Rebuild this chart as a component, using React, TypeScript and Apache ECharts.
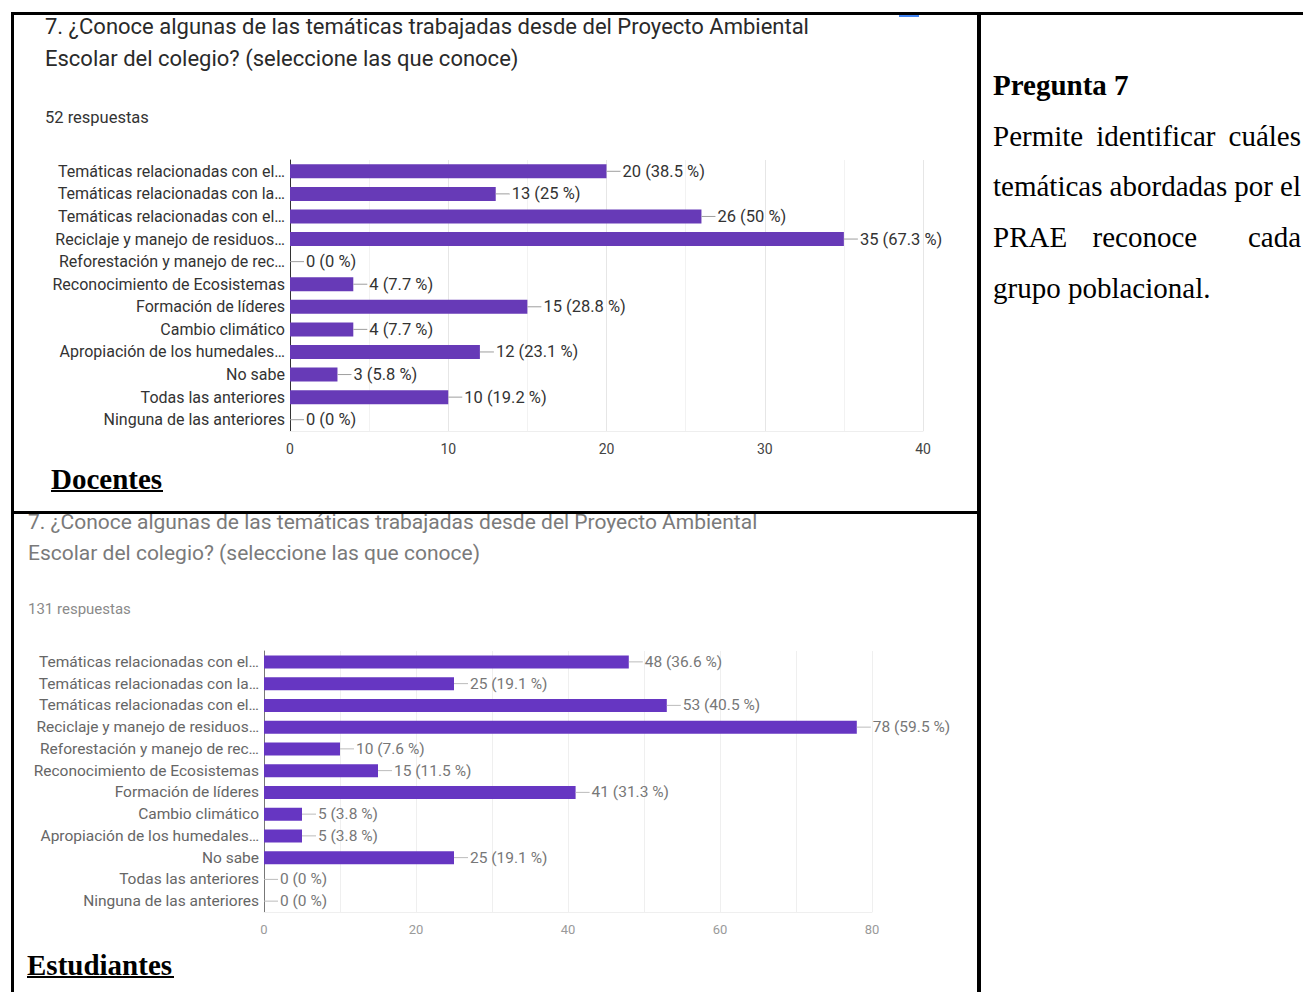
import React, { useEffect, useRef } from "react";
import * as echarts from "echarts";

const categories = [
  "Temáticas relacionadas con el…",
  "Temáticas relacionadas con la…",
  "Temáticas relacionadas con el…",
  "Reciclaje y manejo de residuos…",
  "Reforestación y manejo de rec…",
  "Reconocimiento de Ecosistemas",
  "Formación de líderes",
  "Cambio climático",
  "Apropiación de los humedales…",
  "No sabe",
  "Todas las anteriores",
  "Ninguna de las anteriores",
];

const docentesValues = [20, 13, 26, 35, 0, 4, 15, 4, 12, 3, 10, 0];
const docentesPct = ["38.5", "25", "50", "67.3", "0", "7.7", "28.8", "7.7", "23.1", "5.8", "19.2", "0"];

const estudiantesValues = [48, 25, 53, 78, 10, 15, 41, 5, 5, 25, 0, 0];
const estudiantesPct = ["36.6", "19.1", "40.5", "59.5", "7.6", "11.5", "31.3", "3.8", "3.8", "19.1", "0", "0"];

const questionLine1 = "7. ¿Conoce algunas de las temáticas trabajadas desde del Proyecto Ambiental";
const questionLine2 = "Escolar del colegio? (seleccione las que conoce)";
const docentesResponses = "52 respuestas";
const estudiantesResponses = "131 respuestas";

const sideTitle = "Pregunta 7";
const sideLines = [
  ["Permite", "identificar", "cuáles"],
  ["temáticas", "abordadas", "por", "el"],
  ["PRAE", "reconoce", "", "cada"],
];
const sideLastLine = "grupo poblacional.";

const SERIF = '"Liberation Serif", "Times New Roman", serif';
const SANS = 'Roboto, "Noto Sans", Arial, sans-serif';

function measure(text: string, font: string): number {
  const c = document.createElement("canvas");
  const ctx = c.getContext("2d")!;
  ctx.font = font;
  return ctx.measureText(text).width;
}

export default function App() {
  const ref = useRef<HTMLDivElement>(null);

  useEffect(() => {
    if (!ref.current) return;
    const chart = echarts.init(ref.current, undefined, { renderer: "svg" });

    const bodyFont = `29px ${SERIF}`;
    const left = 993;
    const right = 1301;
    const sideY = [136, 186, 237];
    const sideTexts: any[] = [];
    sideLines.forEach((words, li) => {
      const widths = words.map((w) => (w ? measure(w, bodyFont) : 0));
      const total = widths.reduce((a, b) => a + b, 0);
      const gap = (right - left - total) / (words.length - 1);
      let x = left;
      words.forEach((w, wi) => {
        if (w) {
          sideTexts.push({
            type: "text",
            x,
            y: sideY[li],
            style: { text: w, font: bodyFont, fill: "#000", verticalAlign: "middle", align: "left" },
          });
        }
        x += widths[wi] + gap;
      });
    });

    const makeLabel = (vals: number[], pct: string[], size: number, color: string, lineColor: string) => ({
      show: true,
      position: "right",
      distance: 0,
      formatter: (p: any) => `{ln|}{v|${vals[p.dataIndex]} (${pct[p.dataIndex]} %)}`,
      rich: {
        ln: { width: 14, height: 1, backgroundColor: lineColor },
        v: { fontSize: size, color, fontFamily: SANS, padding: [0, 0, 0, 2] },
      },
    });

    const option: any = {
      animation: false,
      backgroundColor: "#fff",
      grid: [
        { left: 290, top: 160, width: 633, height: 271 },
        { left: 264, top: 651, width: 608, height: 261 },
      ],
      xAxis: [
        {
          gridIndex: 0,
          type: "value",
          min: 0,
          max: 40,
          interval: 10,
          axisLine: { show: true, lineStyle: { color: "#eeeeee" } },
          axisTick: { show: false },
          axisLabel: { fontSize: 14, color: "#444", fontFamily: SANS, margin: 11 },
          splitLine: { show: true, lineStyle: { color: "#e6e6e6" } },
          minorTick: { show: false, splitNumber: 2 },
          minorSplitLine: { show: true, lineStyle: { color: "#f2f2f2" } },
        },
        {
          gridIndex: 1,
          type: "value",
          min: 0,
          max: 80,
          interval: 20,
          axisLine: { show: true, lineStyle: { color: "#efefef" } },
          axisTick: { show: false },
          axisLabel: { fontSize: 13, color: "#9a9a9a", fontFamily: SANS, margin: 11 },
          splitLine: { show: true, lineStyle: { color: "#efefef" } },
          minorTick: { show: false, splitNumber: 2 },
          minorSplitLine: { show: true, lineStyle: { color: "#efefef" } },
        },
      ],
      yAxis: [
        {
          gridIndex: 0,
          type: "category",
          data: categories,
          inverse: true,
          axisLine: { show: true, lineStyle: { color: "#333", width: 1 } },
          axisTick: { show: false },
          axisLabel: { fontSize: 16, color: "#333", fontFamily: SANS, margin: 5 },
          splitLine: { show: false },
        },
        {
          gridIndex: 1,
          type: "category",
          data: categories,
          inverse: true,
          axisLine: { show: true, lineStyle: { color: "#777", width: 1 } },
          axisTick: { show: false },
          axisLabel: { fontSize: 15.5, color: "#666", fontFamily: SANS, margin: 5 },
          splitLine: { show: false },
        },
      ],
      series: [
        {
          type: "bar",
          xAxisIndex: 0,
          yAxisIndex: 0,
          data: docentesValues,
          barWidth: 14,
          itemStyle: { color: "#673ab7" },
          label: makeLabel(docentesValues, docentesPct, 16.5, "#333", "#9e9e9e"),
        },
        {
          type: "bar",
          xAxisIndex: 1,
          yAxisIndex: 1,
          data: estudiantesValues,
          barWidth: 13,
          itemStyle: { color: "#6636c2" },
          label: makeLabel(estudiantesValues, estudiantesPct, 15.5, "#777", "#bbbbbb"),
        },
      ],
      graphic: [
        { type: "rect", shape: { x: 11, y: 12, width: 1292, height: 3 }, style: { fill: "#000" } },
        { type: "rect", shape: { x: 11, y: 12, width: 3, height: 980 }, style: { fill: "#000" } },
        { type: "rect", shape: { x: 977, y: 12, width: 4, height: 980 }, style: { fill: "#000" } },
        { type: "rect", shape: { x: 11, y: 511, width: 968, height: 3 }, style: { fill: "#000" } },
        { type: "rect", shape: { x: 899, y: 15, width: 20, height: 2 }, style: { fill: "#4285f4" } },
        { type: "text", x: 45, y: 26, style: { text: questionLine1, font: `22px ${SANS}`, fill: "#2a2a2a", verticalAlign: "middle" } },
        { type: "text", x: 45, y: 58, style: { text: questionLine2, font: `22px ${SANS}`, fill: "#2a2a2a", verticalAlign: "middle" } },
        { type: "text", x: 45, y: 117, style: { text: docentesResponses, font: `16.5px ${SANS}`, fill: "#333", verticalAlign: "middle" } },
        { type: "text", x: 51, y: 479, style: { text: "Docentes", font: `bold 29px ${SERIF}`, fill: "#000", verticalAlign: "middle" } },
        { type: "rect", shape: { x: 51, y: 490, width: 112, height: 2 }, style: { fill: "#000" } },
        { type: "text", x: 28, y: 522, style: { text: questionLine1, font: `21px ${SANS}`, fill: "#7a7a7a", verticalAlign: "middle" } },
        { type: "text", x: 28, y: 553, style: { text: questionLine2, font: `21px ${SANS}`, fill: "#7a7a7a", verticalAlign: "middle" } },
        { type: "text", x: 28, y: 609, style: { text: estudiantesResponses, font: `15px ${SANS}`, fill: "#8a8a8a", verticalAlign: "middle" } },
        { type: "text", x: 27, y: 965, style: { text: "Estudiantes", font: `bold 29px ${SERIF}`, fill: "#000", verticalAlign: "middle" } },
        { type: "rect", shape: { x: 27, y: 976, width: 147, height: 2 }, style: { fill: "#000" } },
        { type: "text", x: 993, y: 85, style: { text: sideTitle, font: `bold 29px ${SERIF}`, fill: "#000", verticalAlign: "middle" } },
        ...sideTexts,
        { type: "text", x: 993, y: 288, style: { text: sideLastLine, font: bodyFont, fill: "#000", verticalAlign: "middle" } },
      ],
    };

    chart.setOption(option);
    return () => chart.dispose();
  }, []);

  return (
    <div
      ref={ref}
      style={{ position: "absolute", left: 0, top: 0, width: 1303, height: 992, background: "#fff" }}
    />
  );
}
